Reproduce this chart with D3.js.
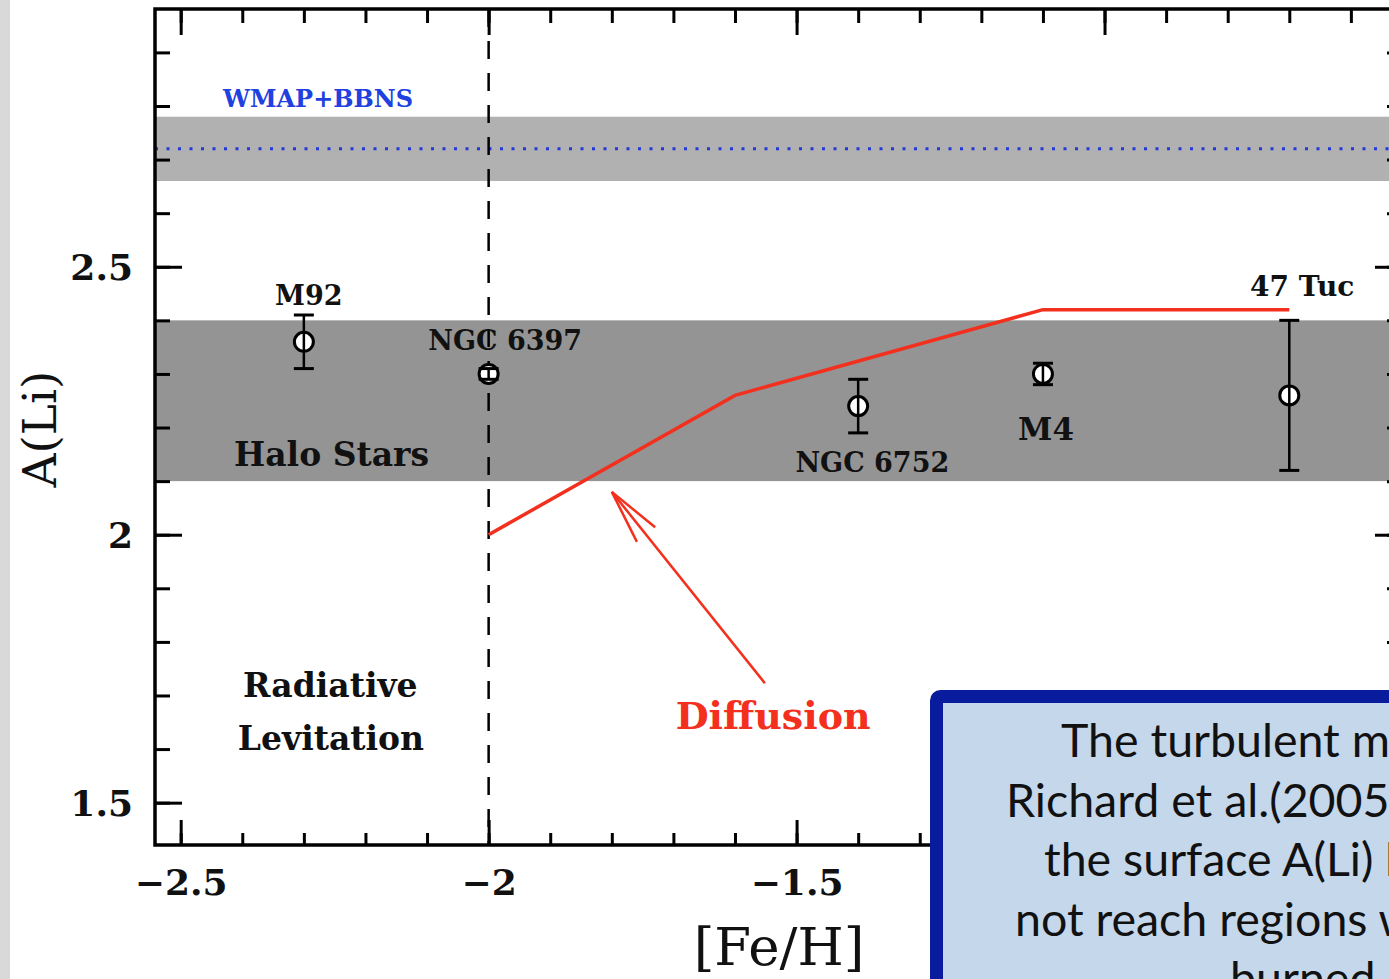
<!DOCTYPE html>
<html>
<head>
<meta charset="utf-8">
<script src="https://cdn.jsdelivr.net/npm/d3@7"></script>
<style>
  body { margin: 0; background: #fff; overflow: hidden; }
  text { font-family: "DejaVu Serif", serif; }
</style>
</head>
<body>
<script>
// globular clusters: [Fe/H] vs A(Li)
var clusters = ["M92", "NGC 6397", "NGC 6752", "M4", "47 Tuc"];
var feh      = [-2.30, -2.00, -1.40, -1.10, -0.70];
var ali      = [2.36, 2.30, 2.24, 2.30, 2.26];
var aliErr   = [0.05, 0.01, 0.05, 0.02, 0.14];

// diffusion model curve
var diffFeh = [-2.0, -1.6, -1.1, -0.7];
var diffAli = [2.00, 2.26, 2.42, 2.42];

// bands and reference lines
var wmapBand  = [2.66, 2.78];
var wmapValue = 2.72;
var haloBand  = [2.10, 2.40];
var levitationLimit = -2.0;

// ticks (the -1 label sits under the text box, so it is left blank)
var xMajor = [-2.5, -2.0, -1.5, -1.0];
var xTickLabels = ["\u22122.5", "\u22122", "\u22121.5", ""];
var xMinor = d3.range(-25, -5).map(function(d) { return d / 10; });
var yMajor = [1.5, 2.0, 2.5];
var yTickLabels = ["1.5", "2", "2.5"];
var yMinor = d3.range(15, 30).map(function(d) { return d / 10; });

// annotation texts, anchored at ([Fe/H], A(Li))
var notes = [
  {text: "WMAP+BBNS",  x: -2.277, y: 2.798, cls: "wmap"},
  {text: "M92",        x: -2.292, y: 2.428, cls: "small"},
  {text: "NGC 6397",   x: -1.973, y: 2.345, cls: "small"},
  {text: "Halo Stars", x: -2.255, y: 2.129, cls: "mid"},
  {text: "NGC 6752",   x: -1.377, y: 2.117, cls: "small"},
  {text: "M4",         x: -1.095, y: 2.177, cls: "m4"},
  {text: "47 Tuc",     x: -0.679, y: 2.446, cls: "tuc"},
  {text: "Radiative",  x: -2.257, y: 1.697, cls: "mid"},
  {text: "Levitation", x: -2.256, y: 1.598, cls: "mid"},
  {text: "Diffusion",  x: -1.538, y: 1.637, cls: "diff"}
];
var arrowFrom = [-1.5515, 1.723];
var arrowTo   = [-1.80, 2.08];

var boxLines = [
  "The turbulent mixing model of",
  "Richard et al.(2005) reproduces",
  "the surface A(Li) but Li does",
  "not reach regions where it is",
  "burned."
];
var boxLineX = [1061, 1006, 1044, 1015, 1230];

var W = 1389, H = 979;
var pLeft = 155, pRight = 1402, pTop = 9, pBottom = 845;
var red = "#f3301e";

var x = d3.scaleLinear().domain([-2.5417, -0.517]).range([pLeft, pRight]);
var y = d3.scaleLinear().domain([1.421, 2.981]).range([pBottom, pTop]);

var svg = d3.select("body").append("svg")
    .attr("width", W)
    .attr("height", H);

// slide margin strip on the left
svg.append("rect").attr("x", 0).attr("y", 0).attr("width", 10).attr("height", H)
    .attr("fill", "#d9d9d9");

svg.append("clipPath").attr("id", "plotclip")
  .append("rect")
    .attr("x", pLeft).attr("y", pTop)
    .attr("width", pRight - pLeft).attr("height", pBottom - pTop);

var plot = svg.append("g").attr("clip-path", "url(#plotclip)");

// bands
plot.append("rect")
    .attr("x", pLeft).attr("width", pRight - pLeft)
    .attr("y", y(wmapBand[1])).attr("height", y(wmapBand[0]) - y(wmapBand[1]))
    .attr("fill", "#b1b1b1");

plot.append("rect")
    .attr("x", pLeft).attr("width", pRight - pLeft)
    .attr("y", y(haloBand[1])).attr("height", y(haloBand[0]) - y(haloBand[1]))
    .attr("fill", "#949494");

plot.append("line")
    .attr("x1", pLeft).attr("x2", pRight)
    .attr("y1", y(wmapValue)).attr("y2", y(wmapValue))
    .attr("stroke", "#2437d8").attr("stroke-width", 3)
    .attr("stroke-dasharray", "3,8.5");

plot.append("line")
    .attr("x1", x(levitationLimit)).attr("x2", x(levitationLimit))
    .attr("y1", pTop).attr("y2", pBottom)
    .attr("stroke", "#000").attr("stroke-width", 2.5)
    .attr("stroke-dasharray", "18,14");

// diffusion curve
var diffLine = d3.line()
    .x(function(d, i) { return x(diffFeh[i]); })
    .y(function(d, i) { return y(diffAli[i]); });

plot.append("path")
    .datum(diffFeh)
    .attr("d", diffLine)
    .attr("fill", "none")
    .attr("stroke", red)
    .attr("stroke-width", 3.5);

// arrow pointing at the curve
var ax0 = x(arrowFrom[0]), ay0 = y(arrowFrom[1]);
var ax1 = x(arrowTo[0]), ay1 = y(arrowTo[1]);
var back = Math.atan2(ay0 - ay1, ax0 - ax1);
plot.append("line")
    .attr("x1", ax0).attr("y1", ay0).attr("x2", ax1).attr("y2", ay1)
    .attr("stroke", red).attr("stroke-width", 2.5);
[-0.21, 0.21].forEach(function(a) {
  plot.append("line")
      .attr("x1", ax1).attr("y1", ay1)
      .attr("x2", ax1 + 56 * Math.cos(back + a))
      .attr("y2", ay1 + 56 * Math.sin(back + a))
      .attr("stroke", red).attr("stroke-width", 2.5);
});

// cluster points
var pts = plot.selectAll("g.cluster")
    .data(clusters)
    .enter().append("g")
    .attr("class", "cluster");

pts.append("circle")
    .attr("cx", function(d, i) { return x(feh[i]); })
    .attr("cy", function(d, i) { return y(ali[i]); })
    .attr("r", 9.5)
    .attr("fill", "#fff")
    .attr("stroke", "#000")
    .attr("stroke-width", 3);

pts.append("line")
    .attr("x1", function(d, i) { return x(feh[i]); })
    .attr("x2", function(d, i) { return x(feh[i]); })
    .attr("y1", function(d, i) { return y(ali[i] - aliErr[i]); })
    .attr("y2", function(d, i) { return y(ali[i] + aliErr[i]); })
    .attr("stroke", "#000").attr("stroke-width", 2.5);

[1, -1].forEach(function(s) {
  pts.append("line")
      .attr("x1", function(d, i) { return x(feh[i]) - 10; })
      .attr("x2", function(d, i) { return x(feh[i]) + 10; })
      .attr("y1", function(d, i) { return y(ali[i] + s * aliErr[i]); })
      .attr("y2", function(d, i) { return y(ali[i] + s * aliErr[i]); })
      .attr("stroke", "#000").attr("stroke-width", 3);
});

// annotation labels
var noteStyle = {
  wmap:  {size: 24, weight: "bold", fill: "#2040e0"},
  small: {size: 27, weight: "bold", fill: "#111"},
  mid:   {size: 33, weight: "bold", fill: "#111"},
  m4:    {size: 31, weight: "bold", fill: "#111"},
  tuc:   {size: 28, weight: "bold", fill: "#111"},
  diff:  {size: 38, weight: "bold", fill: red}
};

svg.selectAll("text.note")
    .data(notes)
    .enter().append("text")
    .attr("class", "note")
    .attr("x", function(d) { return x(d.x); })
    .attr("y", function(d) { return y(d.y); })
    .attr("text-anchor", "middle")
    .attr("font-size", function(d) { return noteStyle[d.cls].size; })
    .attr("font-weight", function(d) { return noteStyle[d.cls].weight; })
    .attr("fill", function(d) { return noteStyle[d.cls].fill; })
    .text(function(d) { return d.text; });

// axes
function styleAxis(g) {
  g.select(".domain").remove();
  g.selectAll(".tick line").attr("stroke", "#000").attr("stroke-width", 3);
  g.selectAll(".tick text")
      .attr("font-family", "DejaVu Serif, serif")
      .attr("font-size", 36)
      .attr("font-weight", "bold")
      .attr("fill", "#111");
}

svg.append("g")
    .attr("transform", "translate(0," + pBottom + ")")
    .call(d3.axisBottom(x).tickValues(xMinor).tickSizeInner(-12).tickSizeOuter(0).tickFormat(""))
    .call(styleAxis);
svg.append("g")
    .attr("transform", "translate(0," + pBottom + ")")
    .call(d3.axisBottom(x).tickValues(xMajor).tickSizeInner(-25).tickSizeOuter(0).tickPadding(24)
      .tickFormat(function(d, i) { return xTickLabels[i]; }))
    .call(styleAxis);

svg.append("g")
    .attr("transform", "translate(0," + pTop + ")")
    .call(d3.axisTop(x).tickValues(xMinor).tickSizeInner(-14).tickSizeOuter(0).tickFormat(""))
    .call(styleAxis);
svg.append("g")
    .attr("transform", "translate(0," + pTop + ")")
    .call(d3.axisTop(x).tickValues(xMajor).tickSizeInner(-26).tickSizeOuter(0).tickFormat(""))
    .call(styleAxis);

svg.append("g")
    .attr("transform", "translate(" + pLeft + ",0)")
    .call(d3.axisLeft(y).tickValues(yMinor).tickSizeInner(-15).tickSizeOuter(0).tickFormat(""))
    .call(styleAxis);
var yAx = svg.append("g")
    .attr("transform", "translate(" + pLeft + ",0)")
    .call(d3.axisLeft(y).tickValues(yMajor).tickSizeInner(-27).tickSizeOuter(0).tickPadding(22)
      .tickFormat(function(d, i) { return yTickLabels[i]; }))
    .call(styleAxis);
yAx.selectAll(".tick text").attr("dy", "0.36em");

svg.append("g")
    .attr("transform", "translate(" + pRight + ",0)")
    .call(d3.axisRight(y).tickValues(yMinor).tickSizeInner(-15).tickSizeOuter(0).tickFormat(""))
    .call(styleAxis);
svg.append("g")
    .attr("transform", "translate(" + pRight + ",0)")
    .call(d3.axisRight(y).tickValues(yMajor).tickSizeInner(-27).tickSizeOuter(0).tickFormat(""))
    .call(styleAxis);

// frame
svg.append("rect")
    .attr("x", pLeft).attr("y", pTop)
    .attr("width", pRight - pLeft).attr("height", pBottom - pTop)
    .attr("fill", "none").attr("stroke", "#000").attr("stroke-width", 3.5);

// axis titles
svg.append("text")
    .attr("transform", "translate(56,429) rotate(-90)")
    .attr("text-anchor", "middle")
    .attr("font-size", 47)
    .attr("fill", "#111")
    .text("A(Li)");

svg.append("text")
    .attr("x", 779).attr("y", 965)
    .attr("text-anchor", "middle")
    .attr("font-size", 53)
    .attr("fill", "#111")
    .text("[Fe/H]");

// slide text box
svg.append("rect")
    .attr("x", 936.5).attr("y", 696.5)
    .attr("width", 700).attr("height", 400)
    .attr("rx", 4)
    .attr("fill", "#c5d7eb")
    .attr("stroke", "#0a1c9e")
    .attr("stroke-width", 13);

svg.selectAll("text.box")
    .data(boxLines)
    .enter().append("text")
    .attr("class", "box")
    .attr("x", function(d, i) { return boxLineX[i]; })
    .attr("y", function(d, i) { return 757 + i * 59.5; })
    .attr("font-size", 46.5)
    .attr("fill", "#111")
    .style("font-family", "Lato, 'Open Sans', sans-serif")
    .text(function(d) { return d; });
</script>
</body>
</html>
